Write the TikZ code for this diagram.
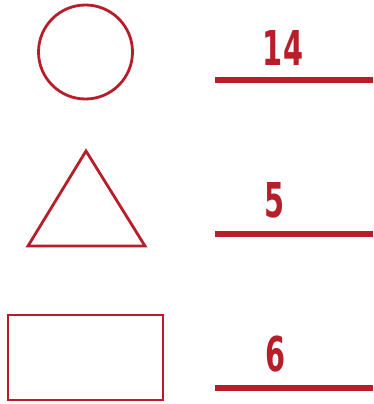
\documentclass[tikz,border=0pt]{standalone}
\usepackage{fontspec}
\setmainfont{DejaVu Sans}
\usetikzlibrary{positioning}
\definecolor{DeepRed}{HTML}{B81D2A}
\tikzset{
  outline/.style={draw=DeepRed,line width=2.8pt,line join=miter},
  answer/.style={font=\fontsize{48}{48}\selectfont\bfseries,text=DeepRed,inner sep=0pt,xscale=0.6},
  blank/.style={draw=DeepRed,line width=6pt}
}
\begin{document}
\begin{tikzpicture}[x=1pt,y=-1pt]
  \useasboundingbox (0,0) rectangle (373,404);
  % shapes
  \draw[outline] (85.5,52) circle (47);
  \draw[outline] (86,151) -- (145,246) -- (28,246) -- cycle;
  \draw[outline] (8,315) rectangle (163,400);
  % answers
  \node[answer] (circnum) at (283,48) {14};
  \node[answer] (trinum) at (275,200) {5};
  \node[answer] (rectnum) at (276,354) {6};
  \coordinate (circline) at (215,80);
  \coordinate (triline) at (215,234);
  \coordinate (rectline) at (215,388);
  \draw[blank] (circline) -- ++(158,0);
  \draw[blank] (triline) -- ++(158,0);
  \draw[blank] (rectline) -- ++(158,0);
\end{tikzpicture}
\end{document}
